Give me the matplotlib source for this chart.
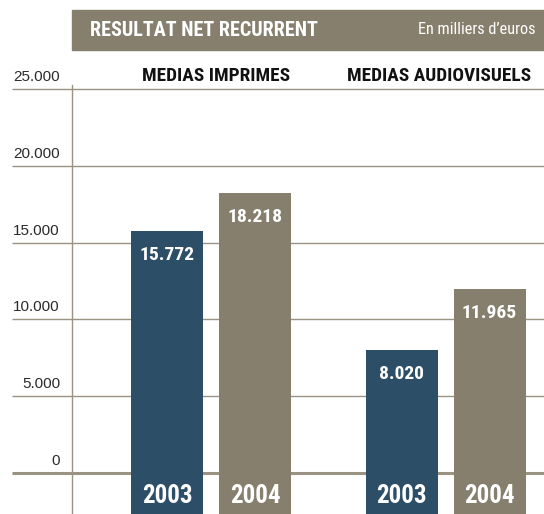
import os
import matplotlib
matplotlib.use("Agg")
import matplotlib.pyplot as plt
from matplotlib import font_manager as fm
from matplotlib.patches import Rectangle

# ---- data ----
groups = ["MEDIAS IMPRIMES", "MEDIAS AUDIOVISUELS"]
years = ["2003", "2004"]
values_2003 = [15772, 8020]
values_2004 = [18218, 11965]
value_labels_2003 = ["15.772", "8.020"]
value_labels_2004 = ["18.218", "11.965"]
yticks = [0, 5000, 10000, 15000, 20000, 25000]
ytick_labels = ["0", "5.000", "10.000", "15.000", "20.000", "25.000"]
title = "RESULTAT NET RECURRENT"
unit = "En milliers d\u2019euros"

# ---- fonts ----
files = {os.path.basename(f.fname): f.fname for f in fm.fontManager.ttflist}


def pick(cands):
    for c in cands:
        for b, p in files.items():
            if b.lower() == c.lower():
                return p
    return None


bold_file = pick(["LiberationSansNarrow-Bold.ttf", "RobotoCondensed-Bold.ttf",
                  "DejaVuSansCondensed-Bold.ttf", "LiberationSans-Bold.ttf"])
reg_file = pick(["LiberationSansNarrow-Regular.ttf", "RobotoCondensed-Regular.ttf",
                 "DejaVuSansCondensed.ttf", "LiberationSans-Regular.ttf"])
plain_file = pick(["LiberationSans-Regular.ttf", "DejaVuSans.ttf"])


def fp(path, size, weight="normal"):
    if path:
        return fm.FontProperties(fname=path, size=size)
    return fm.FontProperties(family="DejaVu Sans", size=size, weight=weight)


# ---- style ----
W, H = 544, 514
DARK = "#2D4E67"
TAUPE = "#877F6D"
GRID = "#9A9384"

fig = plt.figure(figsize=(W / 100, H / 100), dpi=100)
ax = fig.add_axes([0, 0, 1, 1])
ax.set_axis_off()

zero_px, top_px = 473, 89
k = 25000 / (zero_px - top_px)
ax.set_xlim(0, W)
ax.set_ylim(-(H - zero_px) * k, zero_px * k)
ybottom = -(H - zero_px) * k

for t, lab in zip(yticks, ytick_labels):
    lw = 2.2 if t == 0 else 1.0
    ax.plot([12, W], [t, t], color=GRID, lw=lw, zorder=1, solid_capstyle="butt")
    ax.text(60, t + 12 * k, lab, ha="right", va="center",
            fontproperties=fp(plain_file, 11), color="#2a2a2a")

ax.plot([72, 72], [ybottom, (zero_px - 85) * k], color=GRID, lw=1.0, zorder=1)

group_centers = [211, 445.5]
header_centers = [216.5, 439.5]
offset = 44
bw = 72
for gi, gc in enumerate(group_centers):
    for xi, (vals, labs, col) in enumerate(((values_2003, value_labels_2003, DARK),
                                             (values_2004, value_labels_2004, TAUPE))):
        x = gc + (xi * 2 - 1) * offset
        v = vals[gi]
        ax.bar(x, v - ybottom, bottom=ybottom, width=bw, color=col, zorder=3)
        ax.text(x, v - 24 * k, labs[gi], ha="center", va="center",
                fontproperties=fp(bold_file, 14, "bold"), color="white", zorder=4)
        ax.text(x, -23 * k, years[xi], ha="center", va="center",
                fontproperties=fp(bold_file, 18, "bold"), color="white", zorder=4)
    ax.text(header_centers[gi], (zero_px - 76) * k, groups[gi], ha="center", va="center",
            fontproperties=fp(bold_file, 13.9, "bold"), color="#111111")

fig.patches.append(Rectangle((72 / W, 1 - 50 / H), 1 - 72 / W, 40 / H,
                             transform=fig.transFigure, color=TAUPE, zorder=0))
fig.text(90 / W, 1 - 30 / H, title, ha="left", va="center",
         fontproperties=fp(bold_file, 14.5, "bold"), color="white")
fig.text(536 / W, 1 - 30 / H, unit, ha="right", va="center",
         fontproperties=fp(reg_file, 11.7), color="white")

fig.savefig("out.png", dpi=100)
